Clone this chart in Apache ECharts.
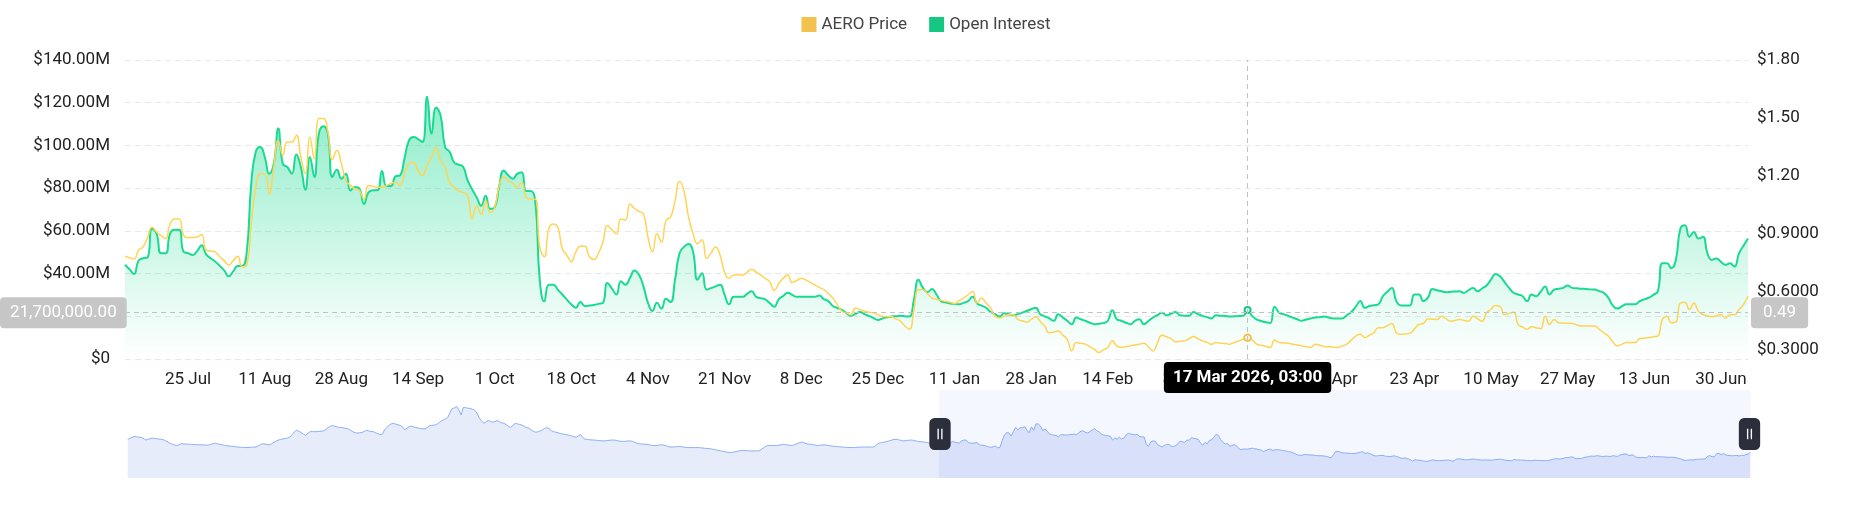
<!DOCTYPE html>
<html>
<head>
<meta charset="utf-8">
<script src="https://cdn.jsdelivr.net/npm/echarts@6/dist/echarts.min.js"></script>
<style>
  html, body { margin: 0; padding: 0; background: #fff; }
  #main { width: 1852px; height: 525px; }
</style>
</head>
<body>
<div id="main"></div>
<script>
// AERO price, 16 Jul 2024 - 10 Jul 2025 (only seen in the slider preview)
var priceHistory = [
  0.995, 1.030, 1.060, 1.094, 1.080, 1.070, 1.067, 1.030, 0.977, 1.000,
  1.020, 1.040, 1.030, 1.015, 1.004, 1.004, 0.985, 0.949, 0.910, 0.868,
  0.840, 0.815, 0.796, 0.830, 0.859, 0.850, 0.845, 0.843, 0.841, 0.835,
  0.830, 0.826, 0.823, 0.820, 0.817, 0.814, 0.814, 0.840, 0.860, 0.877,
  0.855, 0.835, 0.823, 0.810, 0.795, 0.785, 0.778, 0.770, 0.760, 0.751,
  0.745, 0.740, 0.735, 0.733, 0.738, 0.745, 0.750, 0.751, 0.790, 0.830,
  0.859, 0.845, 0.830, 0.823, 0.860, 0.905, 0.949, 0.975, 1.000, 1.015,
  1.022, 1.045, 1.067, 1.150, 1.240, 1.292, 1.260, 1.220, 1.170, 1.130,
  1.190, 1.247, 1.250, 1.247, 1.247, 1.255, 1.265, 1.274, 1.320, 1.380,
  1.420, 1.446, 1.420, 1.400, 1.385, 1.382, 1.365, 1.350, 1.337, 1.290,
  1.245, 1.210, 1.202, 1.212, 1.220, 1.255, 1.292, 1.270, 1.250, 1.247,
  1.215, 1.185, 1.157, 1.160, 1.300, 1.382, 1.450, 1.500, 1.518, 1.490,
  1.465, 1.455, 1.400, 1.310, 1.360, 1.410, 1.428, 1.400, 1.380, 1.364,
  1.350, 1.340, 1.337, 1.380, 1.440, 1.446, 1.460, 1.473, 1.520, 1.581,
  1.620, 1.660, 1.698, 1.850, 1.990, 2.014, 2.059, 1.950, 1.788, 2.032,
  2.020, 2.005, 1.996, 1.970, 1.940, 1.850, 1.700, 1.600, 1.518, 1.560,
  1.608, 1.580, 1.550, 1.575, 1.608, 1.570, 1.530, 1.518, 1.470, 1.420,
  1.382, 1.450, 1.515, 1.500, 1.478, 1.460, 1.420, 1.380, 1.364, 1.310,
  1.260, 1.230, 1.240, 1.270, 1.300, 1.350, 1.380, 1.340, 1.280, 1.247,
  1.230, 1.210, 1.190, 1.175, 1.160, 1.145, 1.130, 1.110, 1.085, 1.067,
  1.110, 1.157, 1.060, 1.004, 0.995, 0.985, 0.980, 0.977, 0.968, 0.960,
  0.955, 0.949, 0.955, 0.962, 0.970, 0.977, 0.975, 0.960, 0.945, 0.935,
  0.931, 0.937, 0.943, 0.949, 0.935, 0.905, 0.875, 0.859, 0.850, 0.845,
  0.841, 0.830, 0.815, 0.800, 0.796, 0.805, 0.815, 0.823, 0.810, 0.790,
  0.765, 0.751, 0.755, 0.760, 0.767, 0.769, 0.758, 0.745, 0.735, 0.733,
  0.733, 0.734, 0.733, 0.733, 0.728, 0.720, 0.712, 0.706, 0.700, 0.690,
  0.675, 0.660, 0.643, 0.630, 0.615, 0.600, 0.585, 0.571, 0.580, 0.589,
  0.605, 0.620, 0.635, 0.643, 0.638, 0.632, 0.626, 0.625, 0.625, 0.625,
  0.625, 0.660, 0.720, 0.770, 0.796, 0.800, 0.805, 0.800, 0.796, 0.810,
  0.825, 0.841, 0.830, 0.815, 0.805, 0.796, 0.830, 0.860, 0.890, 0.913,
  0.890, 0.865, 0.845, 0.841, 0.830, 0.815, 0.796, 0.805, 0.815, 0.823,
  0.810, 0.798, 0.787, 0.780, 0.772, 0.765, 0.758, 0.751, 0.745, 0.740,
  0.736, 0.733, 0.735, 0.740, 0.744, 0.748, 0.751, 0.751, 0.751, 0.751,
  0.751, 0.751, 0.800, 0.860, 0.886, 0.900, 0.915, 0.931, 0.950, 0.975,
  0.995, 1.004, 0.985, 0.965, 0.949, 0.955, 0.965, 0.972, 0.977, 0.960,
  0.945, 0.931, 0.925, 0.915, 0.905, 0.890, 0.870, 0.845, 0.820, 0.800
];

// AERO price, 11 Jul 2025 - 6 Jul 2026
var priceRecent = [
  0.783, 0.775, 0.768, 0.814, 0.831, 0.880, 0.933, 0.908, 0.890, 0.873,
  0.950, 0.976, 0.976, 0.891, 0.879, 0.880, 0.882, 0.896, 0.814, 0.810,
  0.805, 0.780, 0.760, 0.737, 0.760, 0.783, 0.728, 0.737, 0.950, 1.140,
  1.210, 1.210, 1.105, 1.250, 1.383, 1.306, 1.375, 1.375, 1.410, 1.297,
  1.210, 1.400, 1.288, 1.497, 1.497, 1.427, 1.283, 1.332, 1.262, 1.175,
  1.150, 1.132, 1.123, 1.078, 1.149, 1.145, 1.140, 1.140, 1.149, 1.160,
  1.166, 1.149, 1.210, 1.262, 1.270, 1.227, 1.202, 1.254, 1.297, 1.346,
  1.278, 1.245, 1.166, 1.140, 1.121, 1.114, 1.096, 0.976, 1.044, 1.000,
  1.070, 1.010, 1.036, 1.147, 1.193, 1.175, 1.160, 1.140, 1.166, 1.087,
  1.078, 1.078, 0.830, 0.780, 0.925, 0.950, 0.933, 0.822, 0.788, 0.754,
  0.805, 0.834, 0.834, 0.780, 0.766, 0.797, 0.856, 0.942, 0.920, 0.899,
  0.976, 0.971, 1.053, 1.030, 1.015, 1.002, 0.882, 0.805, 0.899, 0.856,
  0.968, 0.985, 1.070, 1.170, 1.121, 0.985, 0.900, 0.848, 0.868, 0.771,
  0.800, 0.831, 0.788, 0.700, 0.668, 0.685, 0.685, 0.685, 0.700, 0.715,
  0.700, 0.685, 0.668, 0.651, 0.605, 0.640, 0.668, 0.685, 0.646, 0.657,
  0.668, 0.660, 0.647, 0.634, 0.621, 0.609, 0.590, 0.566, 0.532, 0.498,
  0.489, 0.480, 0.515, 0.506, 0.498, 0.493, 0.489, 0.480, 0.472, 0.470,
  0.469, 0.458, 0.446, 0.421, 0.404, 0.506, 0.609, 0.609, 0.588, 0.566,
  0.560, 0.554, 0.549, 0.544, 0.537, 0.552, 0.566, 0.583, 0.600, 0.540,
  0.566, 0.540, 0.515, 0.472, 0.463, 0.472, 0.480, 0.480, 0.455, 0.448,
  0.441, 0.455, 0.469, 0.445, 0.421, 0.386, 0.390, 0.395, 0.374, 0.352,
  0.292, 0.335, 0.331, 0.327, 0.314, 0.301, 0.284, 0.297, 0.310, 0.344,
  0.318, 0.310, 0.314, 0.318, 0.322, 0.327, 0.332, 0.312, 0.292, 0.332,
  0.373, 0.365, 0.356, 0.339, 0.342, 0.344, 0.355, 0.366, 0.355, 0.344,
  0.336, 0.327, 0.335, 0.332, 0.330, 0.327, 0.335, 0.344, 0.352, 0.360,
  0.349, 0.327, 0.321, 0.316, 0.310, 0.349, 0.335, 0.334, 0.332, 0.327,
  0.322, 0.318, 0.314, 0.310, 0.327, 0.321, 0.315, 0.313, 0.312, 0.310,
  0.318, 0.327, 0.348, 0.369, 0.378, 0.361, 0.373, 0.386, 0.412, 0.412,
  0.423, 0.434, 0.386, 0.378, 0.380, 0.383, 0.406, 0.429, 0.434, 0.458,
  0.456, 0.455, 0.472, 0.459, 0.446, 0.450, 0.455, 0.450, 0.446, 0.472,
  0.459, 0.446, 0.489, 0.508, 0.527, 0.523, 0.480, 0.486, 0.492, 0.429,
  0.416, 0.404, 0.417, 0.412, 0.407, 0.472, 0.429, 0.455, 0.438, 0.436,
  0.435, 0.434, 0.427, 0.421, 0.421, 0.421, 0.421, 0.404, 0.386, 0.369,
  0.339, 0.318, 0.326, 0.335, 0.335, 0.335, 0.356, 0.358, 0.361, 0.365,
  0.369, 0.455, 0.472, 0.438, 0.441, 0.540, 0.544, 0.506, 0.540, 0.498,
  0.480, 0.474, 0.469, 0.475, 0.480, 0.463, 0.480, 0.480, 0.506, 0.532, 0.575
];

// open interest in $M, 11 Jul 2025 - 6 Jul 2026
var oiRecent = [
  44.1, 42.0, 39.8, 46.0, 47.2, 47.6, 61.0, 58.7, 49.5, 49.5,
  58.7, 60.5, 60.5, 50.2, 49.6, 48.7, 50.5, 53.3, 49.0, 47.2,
  45.6, 43.6, 41.5, 38.7, 41.0, 43.6, 43.6, 50.0, 82.0, 97.0,
  99.3, 94.6, 86.7, 91.4, 107.9, 91.4, 89.9, 86.7, 95.8, 89.9,
  79.2, 94.6, 85.2, 105.5, 109.0, 105.5, 85.2, 88.6, 84.4, 86.7,
  78.9, 80.5, 79.7, 72.6, 78.0, 79.0, 79.0, 88.0, 81.0, 81.0,
  85.5, 86.0, 94.0, 102.4, 104.0, 103.0, 101.6, 122.8, 105.5, 117.8,
  114.0, 99.3, 97.0, 92.0, 91.0, 90.0, 83.6, 79.5, 75.7, 71.8,
  76.4, 70.3, 71.0, 81.0, 88.3, 86.0, 84.4, 86.7, 87.5, 78.7,
  78.7, 74.0, 37.0, 27.0, 34.8, 34.8, 32.5, 30.2, 27.8, 25.6,
  24.0, 26.7, 24.8, 25.0, 25.3, 25.8, 26.3, 35.6, 33.0, 30.2,
  36.4, 34.8, 37.9, 41.4, 39.4, 34.0, 26.3, 22.5, 26.3, 23.6,
  28.2, 26.7, 37.1, 49.5, 52.5, 53.8, 50.2, 37.1, 40.2, 32.5,
  33.2, 34.0, 34.8, 30.0, 25.6, 29.1, 29.1, 29.1, 30.5, 31.7,
  29.1, 28.5, 27.9, 26.2, 24.5, 27.9, 29.5, 31.0, 30.0, 29.1,
  29.1, 29.1, 29.2, 29.1, 29.7, 28.0, 27.1, 24.8, 23.9, 23.0,
  21.5, 20.2, 21.1, 22.0, 21.0, 20.2, 19.2, 18.3, 19.0, 19.5,
  19.9, 20.0, 20.2, 20.0, 19.9, 27.9, 37.1, 33.3, 31.3, 32.8,
  30.2, 27.1, 26.5, 26.0, 25.8, 25.6, 26.3, 27.1, 29.1, 26.0,
  25.0, 24.0, 22.0, 21.0, 19.9, 21.4, 21.0, 20.5, 21.0, 21.7,
  22.5, 23.3, 24.0, 21.0, 20.0, 19.0, 17.9, 21.0, 19.5, 17.9,
  16.3, 19.4, 18.6, 17.9, 17.0, 16.3, 16.5, 16.8, 17.9, 22.8,
  18.6, 17.9, 17.0, 16.3, 17.9, 18.6, 16.3, 17.8, 19.4, 20.5,
  21.7, 20.5, 21.2, 22.0, 20.5, 20.3, 20.2, 22.0, 21.0, 20.2,
  19.6, 19.0, 20.5, 20.3, 20.1, 19.9, 20.0, 20.1, 20.2, 23.0,
  20.2, 18.6, 17.8, 17.2, 16.8, 24.5, 21.7, 21.0, 20.2, 19.4,
  18.6, 17.9, 18.5, 19.0, 19.4, 19.6, 19.9, 19.4, 19.0, 19.0,
  19.0, 20.5, 22.0, 24.5, 27.1, 24.0, 24.8, 25.2, 25.6, 29.4,
  31.5, 33.3, 27.1, 25.1, 25.1, 25.1, 30.2, 30.2, 27.1, 28.7,
  32.8, 32.2, 31.7, 31.3, 31.5, 31.6, 31.7, 31.0, 32.2, 33.3,
  31.7, 33.0, 34.4, 37.2, 39.8, 38.7, 36.0, 33.3, 31.0, 30.2,
  29.4, 27.1, 30.2, 29.4, 31.5, 34.0, 30.2, 32.5, 32.9, 33.3,
  34.4, 33.3, 33.1, 32.9, 32.8, 32.6, 32.5, 31.8, 31.0, 28.7,
  25.1, 23.6, 24.6, 25.6, 25.6, 25.6, 27.1, 27.9, 28.7, 30.0,
  31.7, 44.8, 44.8, 42.5, 46.4, 61.0, 62.6, 57.2, 59.5, 56.4,
  57.2, 49.5, 46.4, 47.1, 45.5, 44.1, 44.8, 43.3, 49.5, 53.0, 56.4
];

var priceTicks = [0.3, 0.6, 0.9, 1.2, 1.5, 1.8];
var MONTHS = ['Jan', 'Feb', 'Mar', 'Apr', 'May', 'Jun', 'Jul', 'Aug', 'Sep', 'Oct', 'Nov', 'Dec'];
var hoverDay = '17 Mar 2026, 03:00';
var hoverOI = 21.7;

// one category per day, first one is 16 Jul 2024
var priceAll = priceHistory.concat(priceRecent);
var firstDay = Date.UTC(2024, 6, 16);
var dates = [];
for (var i = 0; i < priceAll.length; i++) {
    var d = new Date(firstDay + i * 86400000);
    dates.push(d.getUTCDate() + ' ' + MONTHS[d.getUTCMonth()] + ' ' + d.getUTCFullYear() + ', 03:00');
}
var oiAll = priceHistory.map(function () { return null; }).concat(oiRecent);

var FONT = 'Roboto, "Noto Sans", sans-serif';
var GREEN = '#16c784';
var YELLOW = '#f2c14e';
var pointerLine = { color: '#c2c2c2', width: 1, type: [5, 4] };

var chart = echarts.init(document.getElementById('main'));
var option = {
    animation: false,
    textStyle: { fontFamily: FONT },
    legend: {
        top: 11,
        left: 'center',
        icon: 'rect',
        itemWidth: 15,
        itemHeight: 15,
        itemGap: 22,
        textStyle: { fontSize: 17, color: '#444', fontFamily: FONT }
    },
    tooltip: {
        trigger: 'axis',
        showContent: false,
        axisPointer: {
            type: 'cross',
            lineStyle: pointerLine,
            crossStyle: pointerLine
        }
    },
    grid: { left: 125, right: 104, top: 60, bottom: 166 },
    xAxis: {
        type: 'category',
        boundaryGap: false,
        data: dates,
        axisLine: { show: false },
        axisTick: { show: false },
        axisLabel: {
            interval: function (index) { return index % 17 === 0; },
            color: '#222',
            fontSize: 17,
            margin: 12,
            formatter: function (v) { return v.split(' ').slice(0, 2).join(' '); }
        },
        axisPointer: {
            lineStyle: pointerLine,
            label: {
                backgroundColor: '#000',
                color: '#fff',
                fontSize: 17,
                fontWeight: 'bold',
                padding: [7, 9],
                borderRadius: 4,
                formatter: function (p) { return p.value; }
            }
        }
    },
    yAxis: [{
        type: 'value',
        min: 0,
        max: 140,
        interval: 20,
        axisLine: { show: false },
        axisTick: { show: false },
        axisLabel: {
            color: '#222',
            fontSize: 17,
            margin: 15,
            formatter: function (v) { return v === 0 ? '$0' : '$' + v.toFixed(2) + 'M'; }
        },
        splitLine: { lineStyle: { color: '#e8e8e8', type: [6, 4] } },
        axisPointer: {
            label: {
                backgroundColor: '#c6c6c6',
                color: '#fff',
                fontSize: 17,
                padding: [7, 10],
                borderRadius: 4,
                formatter: function (p) {
                    var v = Math.round(p.value * 10) * 100000;
                    return v.toLocaleString('en-US', { minimumFractionDigits: 2, maximumFractionDigits: 2 });
                }
            }
        }
    }, {
        type: 'value',
        min: 0.25,
        max: 1.8,
        position: 'right',
        axisLine: { show: false },
        axisTick: { show: false },
        splitLine: { show: false },
        axisLabel: {
            customValues: priceTicks,
            color: '#222',
            fontSize: 17,
            margin: 9,
            formatter: function (v) { return '$' + (v >= 1 ? v.toFixed(2) : v.toFixed(4)); }
        },
        axisPointer: {
            label: {
                backgroundColor: '#c6c6c6',
                color: '#fff',
                fontSize: 17,
                padding: [7, 12],
                borderRadius: 4,
                formatter: function (p) { return p.value.toFixed(2); }
            }
        }
    }],
    dataZoom: [{
        type: 'slider',
        xAxisIndex: 0,
        startValue: 360,
        endValue: priceAll.length - 1,
        left: 125,
        right: 104,
        top: 390,
        height: 88,
        showDetail: false,
        brushSelect: false,
        moveHandleSize: 0,
        borderColor: 'transparent',
        backgroundColor: 'transparent',
        fillerColor: 'rgba(120, 150, 240, 0.08)',
        handleIcon: 'path://M5,0H15A5,5,0,0,1,20,5V25A5,5,0,0,1,15,30H5A5,5,0,0,1,0,25V5A5,5,0,0,1,5,0Z M7.6,10V20H8.9V10Z M11.1,10V20H12.4V10Z',
        handleSize: 32,
        handleStyle: { color: '#2c2f3b', borderColor: '#2c2f3b', borderWidth: 0 },
        dataBackground: {
            lineStyle: { color: '#8eaef5', width: 1, opacity: 1 },
            areaStyle: { color: '#e6ecf9', opacity: 1 }
        },
        selectedDataBackground: {
            lineStyle: { color: '#8eaef5', width: 1, opacity: 1 },
            areaStyle: { color: '#e2e8fb', opacity: 1 }
        }
    }],
    series: [{
        name: 'AERO Price',
        type: 'line',
        yAxisIndex: 1,
        data: priceAll,
        smooth: true,
        showSymbol: false,
        symbolSize: 6,
        z: 3,
        color: YELLOW,
        lineStyle: { width: 1.5, color: YELLOW }
    }, {
        name: 'Open Interest',
        type: 'line',
        yAxisIndex: 0,
        data: oiAll,
        smooth: true,
        showSymbol: false,
        symbolSize: 4,
        z: 2,
        color: GREEN,
        lineStyle: { width: 2, color: GREEN },
        areaStyle: {
            color: new echarts.graphic.LinearGradient(0, 0, 0, 1, [
                { offset: 0, color: 'rgba(22, 199, 132, 0.7)' },
                { offset: 1, color: 'rgba(22, 199, 132, 0.0)' }
            ])
        }
    }]
};
chart.setOption(option);

// hold the crosshair where the reference shows it
var px = chart.convertToPixel({ xAxisIndex: 0 }, hoverDay);
var py = chart.convertToPixel({ yAxisIndex: 0 }, hoverOI);
chart.dispatchAction({ type: 'showTip', x: px, y: py });
</script>
</body>
</html>
